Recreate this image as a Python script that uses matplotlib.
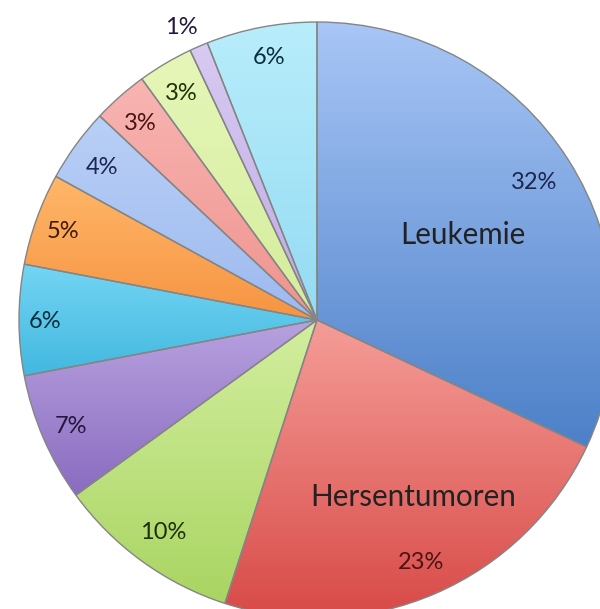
import numpy as np
import matplotlib
matplotlib.use("Agg")
import matplotlib.pyplot as plt
from matplotlib.colors import to_rgb

# ---- data ----
values = [32, 23, 10, 7, 6, 5, 4, 3, 3, 1, 6]
pct_labels = ["32%", "23%", "10%", "7%", "6%", "5%", "4%", "3%", "3%", "1%", "6%"]
names = ["Leukemie", "Hersentumoren", "", "", "", "", "", "", "", "", ""]

# ---- style ----
light = ["#a8c6f6", "#f59d98", "#d3ee9f", "#b8a2e0", "#74d5f3", "#ffb769",
         "#b9d0f6", "#f8b5b2", "#e6f6b8", "#d8caf1", "#b8edfb"]
dark = ["#4c80c8", "#d84a47", "#a9d562", "#8a6cc0", "#42b8e0", "#f69442",
        "#9db9ef", "#ef938e", "#d4ed9c", "#bfaae6", "#94dbf3"]
txt_col = ["#1c2650", "#4a1414", "#1f3008", "#24163c", "#0c2c3c", "#3e1a02",
           "#1c2650", "#4a1414", "#1f3008", "#24163c", "#0c2c3c"]
pct_r = [0.866, 0.88, 0.877, 0.899, 0.914, 0.903, 0.889, 0.891, 0.889, 1.088, 0.899]
pct_nudge = [0.2, 0, 0, -0.3, 0, 0.3, 0.4, 0.4, 0.2, 1.4, -0.5]
name_r = [0.569, 0.671]
name_nudge = [-1.8, 5.3]

W, H = 600, 609
fig = plt.figure(figsize=(W / 100, H / 100), dpi=100)
ax = fig.add_axes([0, 0, 1, 1])

cx, cy, R = 317, 289, 298
wedges, _ = ax.pie(values, startangle=90, counterclock=False, radius=R,
                   center=(cx, cy), colors=dark,
                   wedgeprops=dict(linewidth=0))

for i, w in enumerate(wedges):
    ext = w.get_path().get_extents()
    x0, y0, x1, y1 = ext.x0, ext.y0, ext.x1, ext.y1
    n = 200
    t = np.linspace(0, 1, n)[:, None]
    c0 = np.array(to_rgb(dark[i]))
    c1 = np.array(to_rgb(light[i]))
    img = c0[None, None, :] * (1 - t[:, :, None]) + c1[None, None, :] * t[:, :, None]
    img = np.repeat(img, 2, axis=1)
    im = ax.imshow(img, extent=(x0, x1, y0, y1), origin="lower",
                   aspect="auto", zorder=1, interpolation="bilinear")
    im.set_clip_path(w)
    w.set_facecolor("none")
    w.set_zorder(2)
    w.set_edgecolor("#858585")
    w.set_linewidth(1.0)

font = "Lato"
cum = np.cumsum([0] + values[:-1])
total = float(sum(values))
for i, v in enumerate(values):
    mid = 90 - (cum[i] + v / 2) / total * 360
    a = np.deg2rad(mid + pct_nudge[i])
    r = pct_r[i] * R
    ax.text(cx + r * np.cos(a), cy + r * np.sin(a) - 8, pct_labels[i],
            ha="center", va="baseline", fontsize=17, color=txt_col[i],
            family=font, zorder=5)
    if names[i]:
        an = np.deg2rad(mid + name_nudge[i])
        rn = name_r[i] * R
        ax.text(cx + rn * np.cos(an), cy + rn * np.sin(an) - 10.5, names[i],
                ha="center", va="baseline", fontsize=21.3, color="#222222",
                family=font, zorder=5)

ax.set_xlim(0, W)
ax.set_ylim(0, H)
ax.set_aspect("equal")
ax.axis("off")
fig.savefig("out.png", dpi=100)
